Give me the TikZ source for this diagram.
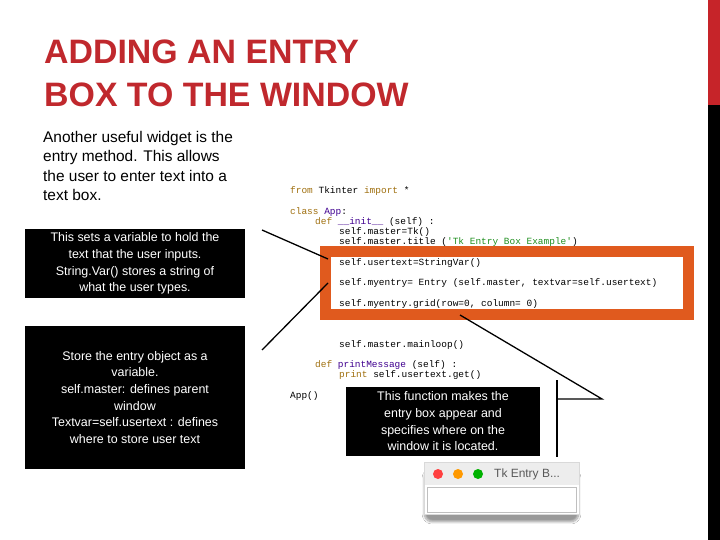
\documentclass[tikz,border=0pt]{standalone}
\usepackage{fontspec}
\setmainfont{Liberation Sans}
\setmonofont{Liberation Mono}
\usetikzlibrary{shadows.blur}
\definecolor{ttl}{HTML}{C0282D}
\definecolor{orng}{HTML}{E05A1E}
\definecolor{kw}{HTML}{A07010}
\definecolor{cls}{HTML}{400090}
\definecolor{str}{HTML}{209020}
\begin{document}
\begin{tikzpicture}[x=1bp,y=-1bp,
  code/.style={anchor=west,inner sep=0,font=\ttfamily\fontsize{9.5}{10}\selectfont},
  blk/.style={fill=black,text=white,align=center,font=\fontsize{12.5}{16.7}\selectfont,inner sep=0},
  conn/.style={line width=1.3pt}]
\useasboundingbox (0,0) rectangle (720,540);
\fill[white] (0,0) rectangle (720,540);
\fill[ttl!90!red] (708,0) rectangle (720,105);
\fill[black] (708,105) rectangle (720,540);
\node[anchor=west,inner sep=0,text=ttl,font=\bfseries\fontsize{34}{43}\selectfont,align=left] (title) at (44,73) {ADDING AN ENTRY\\BOX TO THE WINDOW};
\node[anchor=north west,inner sep=0,align=left,font=\fontsize{15.5}{19.5}\selectfont] (intro) at (43,131) {Another useful widget is the\\entry method. This allows\\the user to enter text into a\\text box.};
% code
\node[code] (c1) at (290,191) {\textcolor{kw}{from} Tkinter \textcolor{kw}{import} *};
\node[code] (c2) at (290,212) {\textcolor{kw}{class} \textcolor{cls}{App}:};
\node[code] (c3) at (315,222) {\textcolor{kw}{def} \textcolor{cls}{\_\_init\_\_} (self) :};
\node[code] (c4) at (339,232) {self.master=Tk()};
\node[code] (c5) at (339,242) {self.master.title (\textcolor{str}{'Tk Entry Box Example'})};
\draw[orng,line width=11pt] (325.5,251.5) rectangle (688.5,314.5);
\node[code] (c6) at (339,263) {self.usertext=StringVar()};
\node[code] (c7) at (339,283) {self.myentry= Entry (self.master, textvar=self.usertext)};
\node[code] (c8) at (339,304) {self.myentry.grid(row=0, column= 0)};
\node[code] (c9) at (339,345) {self.master.mainloop()};
\node[code] (c10) at (315,365) {\textcolor{kw}{def} \textcolor{cls}{printMessage} (self) :};
\node[code] (c11) at (339,375) {\textcolor{kw}{print} self.usertext.get()};
\node[code] (c12) at (290,396) {App()};
% boxes
\node[blk,minimum width=220,minimum height=69] (b1) at (135,263.5) {This sets a variable to hold the\\text that the user inputs.\\String.Var() stores a string of\\what the user types.};
\node[blk,minimum width=220,minimum height=143] (b2) at (135,397.5) {Store the entry object as a\\variable.\\self.master: defines parent\\window\\Textvar=self.usertext : defines\\where to store user text};
\node[blk,minimum width=194,minimum height=69] (b3) at (443,421.5) {This function makes the\\entry box appear and\\specifies where on the\\window it is located.};
% connectors
\coordinate (p1) at (262,230);
\coordinate (q1) at (328,259);
\coordinate (p2) at (262,350);
\coordinate (q2) at (328,283);
\coordinate (p3) at (460,315);
\coordinate (q3) at (602,399);
\coordinate (r3) at (557,399);
\coordinate (s3a) at (557,380);
\coordinate (s3b) at (557,457);
\draw[conn] (p1) -- (q1);
\draw[conn] (p2) -- (q2);
\draw[conn] (p3) -- (q3) -- (r3);
\draw[conn] (s3a) -- (s3b);
% window
\node[draw=black!15,fill=black!7,minimum width=155,minimum height=52,inner sep=0,blur shadow={shadow blur steps=10,shadow xshift=0pt,shadow yshift=-8pt,shadow blur extra rounding=8pt}] (win) at (501.5,488) {};
\fill[white] (424.5,485) rectangle (578.5,513.5);
\draw[black!25] (427,487) rectangle (576,512);
\fill[red!75!white] (438,474) circle (5);
\fill[orange!80!yellow] (458,474) circle (5);
\fill[green!70!black] (478,474) circle (5);
\node[anchor=west,inner sep=0,text=black!65,font=\fontsize{12}{14}\selectfont] (wt) at (494,474) {Tk Entry B...};
\end{tikzpicture}
\end{document}
